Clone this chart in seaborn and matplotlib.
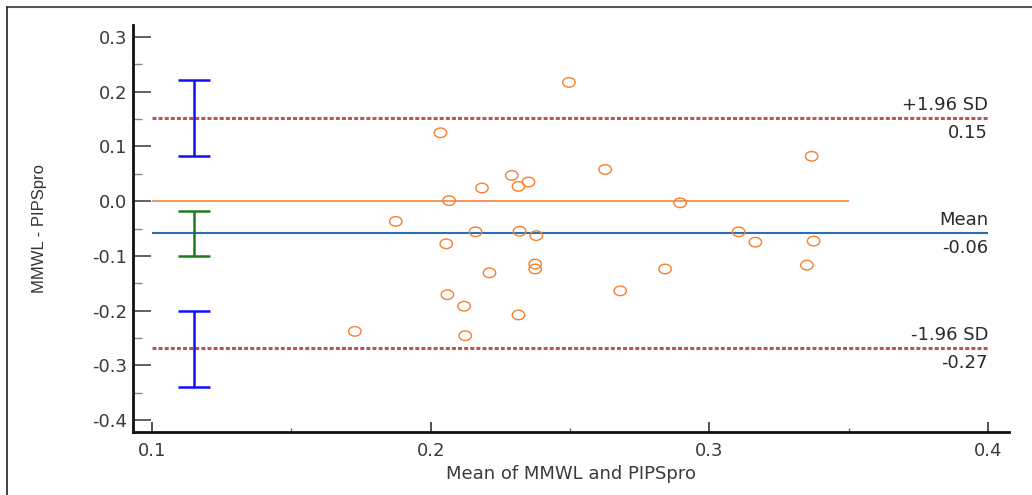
import numpy as np
import pandas as pd
import matplotlib
matplotlib.use("Agg")
import matplotlib.pyplot as plt
from matplotlib.path import Path
from matplotlib.lines import Line2D
import seaborn as sns

# ---- data ----
mean_vals = [0.2496, 0.2035, 0.2626, 0.2291, 0.2351, 0.2315, 0.2184, 0.2066, 0.2895,
             0.1875, 0.2161, 0.2319, 0.2379, 0.2056, 0.2375, 0.2375, 0.2211, 0.2841,
             0.2680, 0.2060, 0.2120, 0.2315, 0.1728, 0.2124, 0.3367, 0.3105, 0.3165,
             0.3374, 0.3350]
diff_vals = [0.217, 0.125, 0.058, 0.047, 0.035, 0.027, 0.024, 0.001, -0.003,
             -0.037, -0.056, -0.055, -0.063, -0.078, -0.115, -0.124, -0.131, -0.124,
             -0.164, -0.171, -0.192, -0.208, -0.238, -0.246, 0.082, -0.056, -0.075,
             -0.073, -0.117]

ref_names = ["+1.96 SD", "Mean", "-1.96 SD"]
ref_values = [0.152, -0.0585, -0.269]
ref_labels = ["0.15", "-0.06", "-0.27"]

ci_x = 0.115
ci_low = [0.082, -0.100, -0.340]
ci_high = [0.222, -0.018, -0.200]

xticks = [0.1, 0.2, 0.3, 0.4]
yticks = [0.3, 0.2, 0.1, 0.0, -0.1, -0.2, -0.3, -0.4]

sns.set_style("white")
plt.rcParams["font.family"] = ["DejaVu Sans"]

FS = 13

fig = plt.figure(figsize=(10.32, 4.95), dpi=100)
ax = fig.add_axes([133 / 1032, 63 / 495, (1009 - 133) / 1032, (432 - 25) / 495])

# figure frame (top and left edges visible)
fig.add_artist(Line2D([7 / 1032, 1], [1 - 7 / 495, 1 - 7 / 495], transform=fig.transFigure,
                      color="#555555", lw=1.5))
fig.add_artist(Line2D([7 / 1032, 7 / 1032], [0, 1 - 7 / 495], transform=fig.transFigure,
                      color="#222222", lw=1.2))

ax.set_xlim(0.0932, 0.4075)
ax.set_ylim(-0.422, 0.322)

# zero line
ax.hlines(0.0, 0.1, 0.35, color="#F4904A", lw=1.3)
# mean line
ax.hlines(ref_values[1], 0.1, 0.4, color="#2E6DB4", lw=1.5)
# limits of agreement
for v in (ref_values[0], ref_values[2]):
    ax.hlines(v, 0.1, 0.4, color="#A8383C", lw=2.2, linestyles=(0, (1.3, 0.7)), alpha=0.85)

# CI error bars
colors_ci = ["#1010FF", "#1E7A1E", "#1010FF"]
for lo, hi, c in zip(ci_low, ci_high, colors_ci):
    mid = (lo + hi) / 2
    ax.errorbar([ci_x], [mid], yerr=[[mid - lo], [hi - mid]], fmt="none",
                ecolor=c, elinewidth=1.8, capsize=11.5, capthick=1.8)

# ellipse marker
circ = Path.unit_circle()
ell = Path(circ.vertices * np.array([1.3, 1.0]), circ.codes)

df = pd.DataFrame({"mean": mean_vals, "diff": diff_vals})
sns.scatterplot(data=df, x="mean", y="diff", ax=ax, marker=ell, s=80,
                facecolors="none", edgecolor="#F5802E", linewidth=1.0, zorder=5)

# right side labels
for name, v, lab in zip(ref_names, ref_values, ref_labels):
    ax.annotate(name, (0.4, v), xytext=(0, 3), textcoords="offset points",
                ha="right", va="bottom", fontsize=FS, color="#2a2a2a")
    ax.annotate(lab, (0.4, v), xytext=(0, -4), textcoords="offset points",
                ha="right", va="top", fontsize=FS, color="#2a2a2a")

# axes styling
for s in ["top", "right"]:
    ax.spines[s].set_visible(False)
for s in ["left", "bottom"]:
    ax.spines[s].set_color("#111111")
    ax.spines[s].set_linewidth(2.0)

ax.set_xticks(xticks)
ax.set_xticklabels([f"{t:.1f}" for t in xticks])
ax.set_yticks(yticks)
ax.set_yticklabels([f"{t:.1f}" for t in yticks])
ax.set_xticks([0.15, 0.25, 0.35], minor=True)
ax.set_yticks([0.25, 0.15, 0.05, -0.05, -0.15, -0.25, -0.35], minor=True)
ax.tick_params(axis="y", which="major", direction="in", length=13, width=1.3,
               color="#555555", labelsize=FS, pad=4, labelcolor="#3a3a3a")
ax.tick_params(axis="y", which="minor", direction="in", length=6.5, width=1.0,
               color="#888888")
ax.tick_params(axis="x", which="major", direction="in", length=7, width=1.3,
               color="#444444", labelsize=FS, pad=7, labelcolor="#3a3a3a")
ax.tick_params(axis="x", which="minor", direction="in", length=3, width=1.0,
               color="#666666")
ax.tick_params(left=True, bottom=True, which="both")

ax.set_xlabel("Mean of MMWL and PIPSpro", fontsize=FS, color="#3a3a3a", labelpad=4)
ax.set_ylabel("MMWL - PIPSpro", fontsize=12, color="#333333", labelpad=33,
              family="Liberation Sans")

fig.savefig("out.png", dpi=100)
